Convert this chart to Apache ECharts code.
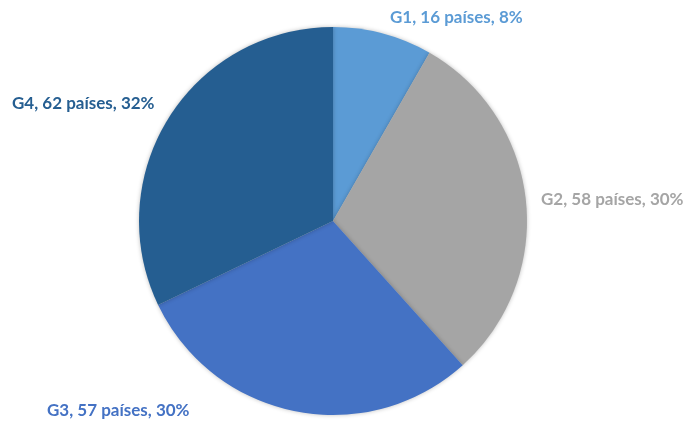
<!DOCTYPE html>
<html lang="pt">
<head>
  <meta charset="utf-8">
</head>
<body style="margin: 0; background: #fff; overflow: hidden">
  <div id="container" style="width: 686px; height: 421px"></div>

  <script type="text/javascript" src="https://cdn.jsdelivr.net/npm/echarts@6/dist/echarts.min.js"></script>

  <script type="text/javascript">
    var groups = ['G1', 'G2', 'G3', 'G4'];
    var countries = [16, 58, 57, 62];
    var shares = ['8%', '30%', '30%', '32%'];
    var colors = ['#5B9BD5', '#A5A5A5', '#4472C4', '#255E91'];

    // label anchors (left edge, middle of text)
    var labelAt = [[390, 18], [541, 200], [47, 411], [12, 104]];

    var dom = document.getElementById('container');
    var myChart = echarts.init(dom, null, { renderer: 'canvas' });

    var option = {
      animation: false,
      series: [
        {
          type: 'pie',
          center: [333, 221],
          radius: [0, 194],
          startAngle: 90,
          clockwise: true,
          avoidLabelOverlap: false,
          itemStyle: {
            borderWidth: 0,
            shadowBlur: 4,
            shadowColor: 'rgba(0,0,0,0.25)'
          },
          emphasis: { disabled: true },
          label: {
            show: true,
            position: 'outside',
            fontFamily: 'Lato',
            fontWeight: 'bold',
            fontSize: 17,
            formatter: function (p) {
              return p.name + ', ' + p.value + ' países, ' + shares[p.dataIndex];
            }
          },
          labelLine: { show: false },
          labelLayout: function (p) {
            var a = labelAt[p.dataIndex];
            return { x: a[0], y: a[1], align: 'left', verticalAlign: 'middle', hideOverlap: false };
          },
          data: groups.map(function (g, i) {
            return {
              name: g,
              value: countries[i],
              itemStyle: { color: colors[i] },
              label: { color: colors[i] }
            };
          })
        }
      ]
    };

    myChart.setOption(option);
    window.addEventListener('resize', myChart.resize);
  </script>
</body>
</html>
